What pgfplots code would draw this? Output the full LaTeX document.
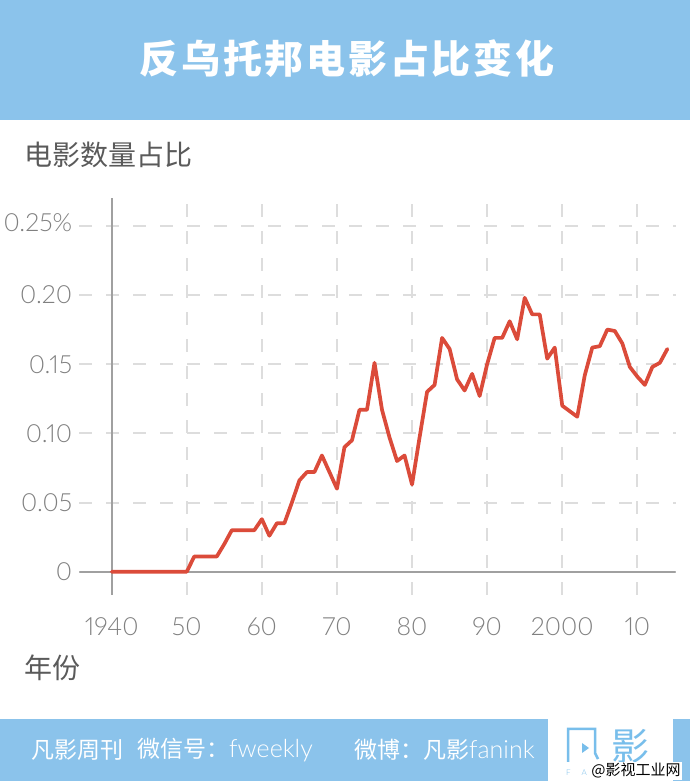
\documentclass[border=0pt]{standalone}
\usepackage{pgfplots}
\pgfplotsset{compat=1.18}
\usepackage{fontspec}
\setmainfont{Noto Sans CJK SC}
\newfontfamily\numfont{Lato Light}[Numbers=Proportional]
\newfontfamily\titlefont{Noto Sans CJK SC}[LetterSpace=7]
\definecolor{band}{RGB}{139,195,235}
\definecolor{logoblue}{RGB}{120,190,235}
\definecolor{redline}{RGB}{219,75,58}
\definecolor{gridgray}{RGB}{221,221,221}
\definecolor{axisgray}{RGB}{160,160,160}
\definecolor{labelgray}{RGB}{128,128,128}
\definecolor{textgray}{RGB}{90,90,90}

\pgfplotstableread{
year share
1940 0
1941 0
1942 0
1943 0
1944 0
1945 0
1946 0
1947 0
1948 0
1949 0
1950 0
1951 0.011
1952 0.011
1953 0.011
1954 0.011
1955 0.020
1956 0.030
1957 0.030
1958 0.030
1959 0.030
1960 0.038
1961 0.026
1962 0.035
1963 0.035
1964 0.050
1965 0.066
1966 0.072
1967 0.072
1968 0.084
1969 0.072
1970 0.060
1971 0.090
1972 0.095
1973 0.117
1974 0.117
1975 0.151
1976 0.117
1977 0.097
1978 0.080
1979 0.084
1980 0.063
1981 0.097
1982 0.130
1983 0.135
1984 0.169
1985 0.161
1986 0.139
1987 0.131
1988 0.143
1989 0.127
1990 0.150
1991 0.169
1992 0.169
1993 0.181
1994 0.168
1995 0.198
1996 0.186
1997 0.186
1998 0.154
1999 0.162
2000 0.120
2001 0.116
2002 0.112
2003 0.142
2004 0.162
2005 0.163
2006 0.175
2007 0.174
2008 0.165
2009 0.148
2010 0.141
2011 0.135
2012 0.148
2013 0.151
2014 0.161
}\sharedata

\begin{document}
\begin{tikzpicture}[x=1pt,y=1pt]
% background, header and footer bands
\fill[white] (0,0) rectangle (690,781);
\fill[band] (0,661) rectangle (690,781);
\node[white, font=\titlefont\bfseries\fontsize{39}{39}\selectfont] at (347,722) {反乌托邦电影占比变化};
\fill[band] (0,0) rectangle (548,62);
\fill[band] (673,0) rectangle (690,62);

% axis titles
\node[anchor=west, text=textgray, font=\fontsize{28}{28}\selectfont, inner sep=0pt] at (24,626) {电影数量占比};
\node[anchor=west, text=textgray, font=\fontsize{28}{28}\selectfont, inner sep=0pt] at (24,113) {年份};

\begin{axis}[
  at={(79.3pt,186pt)}, anchor=south west,
  scale only axis, width=596.4pt, height=396.7pt,
  xmin=1935.69, xmax=2015.11, ymin=-0.01684, ymax=0.2699,
  axis line style={draw=none}, major tick length=0pt,
  xtick={1940,1950,...,2010},
  xticklabels={1940,50,60,70,80,90,2000,10},
  ytick={0,0.05,0.10,0.15,0.20,0.25},
  yticklabels={0,0.05,0.10,0.15,0.20,\raisebox{6pt}{0.25\%}},
  grid=major,
  major grid style={gridgray, line width=2pt, dash pattern=on 13pt off 14pt},
  ticklabel style={font=\numfont\fontsize{25}{25}\selectfont, text=labelgray},
  xticklabel style={anchor=north, inner sep=0pt, yshift=-22pt},
  yticklabel style={anchor=east, inner sep=0pt, xshift=-7pt},
]
\draw[axisgray, line width=2pt] (axis cs:1935.69,0) -- (axis cs:2015.11,0);
\draw[axisgray, line width=2pt] (axis cs:1940,-0.01684) -- (axis cs:1940,0.2699);
\addplot[redline, line width=3.7pt, line join=round, line cap=round, mark=none] table[x=year, y=share] {\sharedata};
\end{axis}

% footer text
\node[anchor=west, white, inner sep=0pt, font=\fontsize{23}{23}\selectfont] at (31,31) {凡影周刊};
\node[anchor=west, white, inner sep=0pt, font=\fontsize{23}{23}\selectfont] at (137,31) {微信号：{\numfont\fontsize{25}{25}\selectfont fweekly}};
\node[anchor=west, white, inner sep=0pt, font=\fontsize{23}{23}\selectfont] at (354,31) {微博：凡影{\numfont\fontsize{25}{25}\selectfont fanink}};

% logo
\draw[logoblue, line width=2.5pt] (568,19) -- (568,52) -- (595,52) -- (595,28) -- (598,22);
\fill[logoblue] (582,38) -- (582,28) -- (589,33) -- cycle;
\node[logoblue, inner sep=0pt, font=\fontsize{38}{38}\selectfont] at (630,35) {影};
\node[logoblue, inner sep=0pt, anchor=west, font=\numfont\fontsize{8}{8}\selectfont] at (566,8) {F\hspace{11pt}A\hspace{11pt}N\hspace{11pt}I\hspace{11pt}N\hspace{11pt}K};
\node[black, fill=white, inner sep=1pt, font=\fontsize{15}{15}\selectfont] at (636,10) {@影视工业网};
\end{tikzpicture}
\end{document}
